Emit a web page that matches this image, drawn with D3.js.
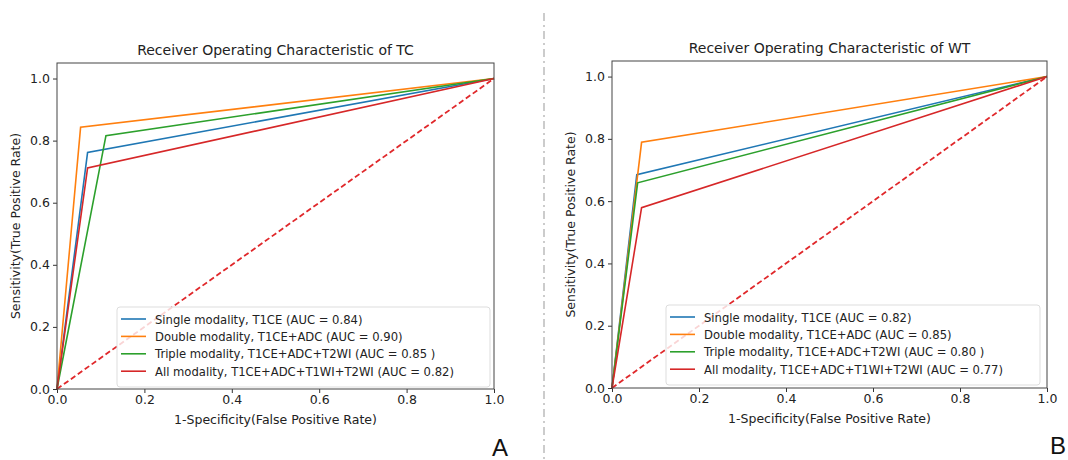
<!DOCTYPE html>
<html>
<head>
<meta charset="utf-8">
<script src="https://cdn.jsdelivr.net/npm/d3@7"></script>
<style>
  body { margin: 0; background: #fff; }
  svg text { font-family: "DejaVu Sans", sans-serif; fill: #222; }
</style>
</head>
<body>
<div class="fig"></div>
<script>
// data: each curve is (0,0) -> (fpr, tpr) -> (1,1)
var seriesNames = ["Single modality, T1CE", "Double modality, T1CE+ADC", "Triple modality, T1CE+ADC+T2WI", "All modality, T1CE+ADC+T1WI+T2WI"];
var seriesColors = ["#1f77b4", "#ff7f0e", "#2ca02c", "#d62728"];

var tcFpr = [0.070, 0.054, 0.112, 0.070];
var tcTpr = [0.762, 0.843, 0.816, 0.712];
var tcAuc = ["0.84", "0.90", "0.85 ", "0.82"];

var wtFpr = [0.057, 0.068, 0.059, 0.068];
var wtTpr = [0.685, 0.789, 0.659, 0.579];
var wtAuc = ["0.82", "0.85", "0.80 ", "0.77"];

var ticks = [0, 0.2, 0.4, 0.6, 0.8, 1.0];

var svg = d3.select(".fig").append("svg")
            .attr("width", 1068)
            .attr("height", 460);

// separator between the two panels
svg.append("line")
   .attr("x1", 544).attr("x2", 544)
   .attr("y1", 13).attr("y2", 460)
   .style("stroke", "#999")
   .style("stroke-width", 1)
   .style("stroke-dasharray", "8,4,2,4");

var drawPanel = function(box, title, fpr, tpr, auc, letter, letterX, letterY){

    var x = d3.scaleLinear().domain([0, 1]).range([box.left, box.right]);
    var y = d3.scaleLinear().domain([0, 1.05]).range([box.bottom, box.top]);

    var g = svg.append("g");

    // axes
    g.append("g")
     .attr("transform", "translate(0," + box.bottom + ")")
     .call(d3.axisBottom(x).tickValues(ticks).tickFormat(d3.format(".1f")).tickSize(4).tickPadding(2))
     .call(function(a){ a.select(".domain").remove(); });

    g.append("g")
     .attr("transform", "translate(" + box.left + ",0)")
     .call(d3.axisLeft(y).tickValues(ticks).tickFormat(d3.format(".1f")).tickSize(4).tickPadding(3))
     .call(function(a){ a.select(".domain").remove(); });

    g.selectAll(".tick text")
     .style("font-size", "12.5px")
     .style("fill", "#222");
    g.selectAll(".tick line").style("stroke", "#333");

    // curves
    var line = d3.line().x(function(d){ return x(d[0]); }).y(function(d){ return y(d[1]); });

    g.append("path")
     .attr("d", line([[0, 0], [1, 1]]))
     .style("fill", "none")
     .style("stroke", "#e0282b")
     .style("stroke-width", 1.8)
     .style("stroke-dasharray", "5.5,3");

    seriesNames.forEach(function(name, i){
        g.append("path")
         .attr("d", line([[0, 0], [fpr[i], tpr[i]], [1, 1]]))
         .style("fill", "none")
         .style("stroke", seriesColors[i])
         .style("stroke-width", 1.6);
    });

    // frame
    g.append("rect")
     .attr("x", box.left).attr("y", box.top)
     .attr("width", box.right - box.left)
     .attr("height", box.bottom - box.top)
     .style("fill", "none")
     .style("stroke", "#444")
     .style("stroke-width", 1);

    // legend
    var lg = g.append("g");
    lg.append("rect")
      .attr("x", box.legX).attr("y", box.legY)
      .attr("width", box.legW).attr("height", 80)
      .attr("rx", 3)
      .style("fill", "rgba(255,255,255,0.8)")
      .style("stroke", "#ddd");

    seriesNames.forEach(function(name, i){
        var ry = box.legY + 12 + i * 17.4;
        lg.append("line")
          .attr("x1", box.legX + 4).attr("x2", box.legX + 29)
          .attr("y1", ry).attr("y2", ry)
          .style("stroke", seriesColors[i])
          .style("stroke-width", 1.6);
        lg.append("text")
          .attr("x", box.legX + 38)
          .attr("y", ry + 4.5)
          .style("font-size", "11.6px")
          .text(name + " (AUC = " + auc[i] + ")");
    });

    // titles
    g.append("text")
     .attr("x", (box.left + box.right) / 2)
     .attr("y", box.top - 8)
     .attr("text-anchor", "middle")
     .style("font-size", "14px")
     .text(title);

    g.append("text")
     .attr("x", (box.left + box.right) / 2)
     .attr("y", box.bottom + 35)
     .attr("text-anchor", "middle")
     .style("font-size", "12.5px")
     .text("1-Specificity(False Positive Rate)");

    g.append("text")
     .attr("transform", "translate(" + (box.left - 37) + "," + ((box.top + box.bottom) / 2) + ") rotate(-90)")
     .attr("text-anchor", "middle")
     .style("font-size", "12.5px")
     .text("Sensitivity(True Positive Rate)");

    g.append("text")
     .attr("x", letterX)
     .attr("y", letterY)
     .style("font-family", "Liberation Sans, Arial, sans-serif")
     .style("font-size", "24px")
     .style("fill", "#111")
     .text(letter);
};

drawPanel({left: 57, right: 494, top: 63, bottom: 389, legX: 117, legY: 307, legW: 373},
          "Receiver Operating Characteristic of TC", tcFpr, tcTpr, tcAuc, "A", 492, 456);

drawPanel({left: 612, right: 1047, top: 61, bottom: 388, legX: 666, legY: 305, legW: 374},
          "Receiver Operating Characteristic of WT", wtFpr, wtTpr, wtAuc, "B", 1050, 454);
</script>
</body>
</html>
